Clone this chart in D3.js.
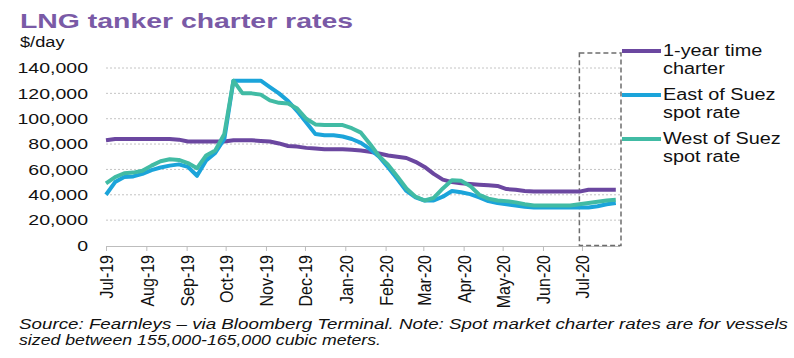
<!DOCTYPE html>
<html><head><meta charset="utf-8">
<script src="https://cdn.jsdelivr.net/npm/d3@7"></script>
<style>html,body{margin:0;padding:0;background:#fff;}svg{display:block;}</style>
</head><body>
<svg id="c" width="794" height="358"></svg>
<script>
// ---- data (weekly observations) ----
const startDate = "2019-07-01";
const timeCharter = [83000,84000,84000,84000,84000,84000,84000,84000,83500,82000,82000,82000,82000,82000,83000,83000,83000,82500,82000,80500,78500,78000,77000,76500,76000,76000,76000,75500,75000,74000,72500,71000,70000,69000,66000,62000,56500,52000,50000,49000,48500,48000,47500,47000,44500,44000,43000,42500,42500,42500,42500,42500,42500,44000,44000,44000,44000];
const eastSuez = [40000,50000,54000,54500,56500,59500,61500,63000,64000,62000,55000,67000,73000,84000,130000,130000,130000,130000,125000,120000,114000,106000,97000,88000,87000,87000,86000,84000,81000,76000,70000,61500,52500,43000,38000,35500,35500,38500,43000,42000,40500,38000,35000,33500,32500,31500,30500,30000,30000,30000,30000,30000,30000,30000,31000,32500,33500];
const westSuez = [49000,54000,57000,57500,59000,63000,66500,68000,67500,65000,61000,71000,75000,88000,130000,120000,120000,119000,114500,112500,112000,108000,100000,95500,95000,95000,95000,92500,89000,80000,70500,63500,54500,45000,38500,35500,37500,45000,51500,51000,47000,40000,37000,35500,35000,34000,32500,31500,31500,31500,31500,31500,32500,33500,34500,35500,36000];
const monthTicks = ["Jul-19","Aug-19","Sep-19","Oct-19","Nov-19","Dec-19","Jan-20","Feb-20","Mar-20","Apr-20","May-20","Jun-20","Jul-20"];
const yTicks = [0,20000,40000,60000,80000,100000,120000,140000];
const seriesNames = [["1-year time","charter"],["East of Suez","spot rate"],["West of Suez","spot rate"]];
const colors = ["#6B47A0","#1BA4DA","#41BBA4"];

// ---- setup ----
const svg = d3.select("#c");
const FONT = "'Liberation Sans', Arial, sans-serif";
const parse = d3.timeParse("%Y-%m-%d");
const t0 = parse(startDate);
const dates = timeCharter.map((_, i) => d3.timeWeek.offset(t0, i));
const x = d3.scaleTime().domain([parse("2019-07-01"), parse("2020-08-01")]).range([106, 622.3]);
const y = d3.scaleLinear().domain([0, 140000]).range([245.5, 68]);

function stretch(sel, k) {
  sel.each(function () {
    const w = this.getComputedTextLength();
    d3.select(this).attr("textLength", w * k).attr("lengthAdjust", "spacingAndGlyphs");
  });
}

// title
svg.append("text").attr("x", 20).attr("y", 28).attr("font-family", FONT)
  .attr("font-size", 21).attr("font-weight", "bold").attr("fill", "#7A5AA6")
  .attr("textLength", 333).attr("lengthAdjust", "spacingAndGlyphs")
  .text("LNG tanker charter rates");
svg.append("text").attr("x", 20).attr("y", 47).attr("font-family", FONT)
  .attr("font-size", 14).attr("fill", "#111").text("$/day").call(stretch, 1.3);

// gridlines
svg.append("g").selectAll("line").data(yTicks.filter(d => d > 0)).join("line")
  .attr("x1", 106).attr("x2", 620).attr("y1", d => y(d)).attr("y2", d => y(d))
  .attr("stroke", "#c4c4c4").attr("stroke-width", 1).attr("stroke-dasharray", "2,2");

// y axis
const yAxis = svg.append("g").attr("transform", "translate(106,0)")
  .call(d3.axisLeft(y).tickValues(yTicks).tickSize(0).tickPadding(18).tickFormat(d3.format(",")));
yAxis.select(".domain").remove();
yAxis.selectAll("text").attr("font-family", FONT).attr("font-size", 15).attr("fill", "#111").call(stretch, 1.3);

// x axis
const tickDates = monthTicks.map(d3.timeParse("%b-%y"));
const xAxis = svg.append("g").attr("transform", "translate(0,246)")
  .call(d3.axisBottom(x).tickValues(tickDates).tickSize(5).tickFormat((d, i) => monthTicks[i]));
xAxis.select(".domain").attr("d", "M106,0.5H620").attr("stroke", "#bdbdbd");
xAxis.selectAll(".tick line").attr("stroke", "#bdbdbd");
xAxis.selectAll(".tick text").attr("font-family", FONT).attr("font-size", 16).attr("fill", "#111")
  .attr("text-anchor", "end").attr("dy", "0.35em").attr("y", 0)
  .attr("transform", "translate(0,9) rotate(-90) scale(1,1.2)");

// dashed highlight box
svg.append("rect").attr("x", x(parse("2020-06-29"))).attr("y", 53)
  .attr("width", x(parse("2020-07-31")) - x(parse("2020-06-29"))).attr("height", y(0) - 53)
  .attr("fill", "none").attr("stroke", "#6d6d6d").attr("stroke-width", 1.5).attr("stroke-dasharray", "5,3");

// lines
const series = [timeCharter, eastSuez, westSuez];
const line = d3.line().x((d, i) => x(dates[i])).y(d => y(d));
series.forEach((s, k) => {
  svg.append("path").datum(s).attr("d", line).attr("fill", "none")
    .attr("stroke", colors[k]).attr("stroke-width", 4)
    .attr("stroke-linejoin", "round").attr("stroke-linecap", "butt");
});

// legend
const legY = [51, 95, 139];
seriesNames.forEach((nm, k) => {
  svg.append("line").attr("x1", 622).attr("x2", 661).attr("y1", legY[k]).attr("y2", legY[k])
    .attr("stroke", colors[k]).attr("stroke-width", 4);
  nm.forEach((t, j) => {
    svg.append("text").attr("x", 663).attr("y", legY[k] + 5 + j * 18)
      .attr("font-family", FONT).attr("font-size", 16).attr("fill", "#111").text(t).call(stretch, 1.24);
  });
});

// source note
const src = ["Source: Fearnleys \u2013 via Bloomberg Terminal. Note: Spot market charter rates are for vessels",
             "sized between 155,000-165,000 cubic meters."];
const srcW = [769, 362];
src.forEach((t, j) => {
  svg.append("text").attr("x", 19).attr("y", 328.5 + j * 16.8).attr("font-family", FONT)
    .attr("font-size", 14).attr("font-style", "italic").attr("fill", "#111")
    .attr("textLength", srcW[j]).attr("lengthAdjust", "spacingAndGlyphs").text(t);
});
</script>
</body></html>
